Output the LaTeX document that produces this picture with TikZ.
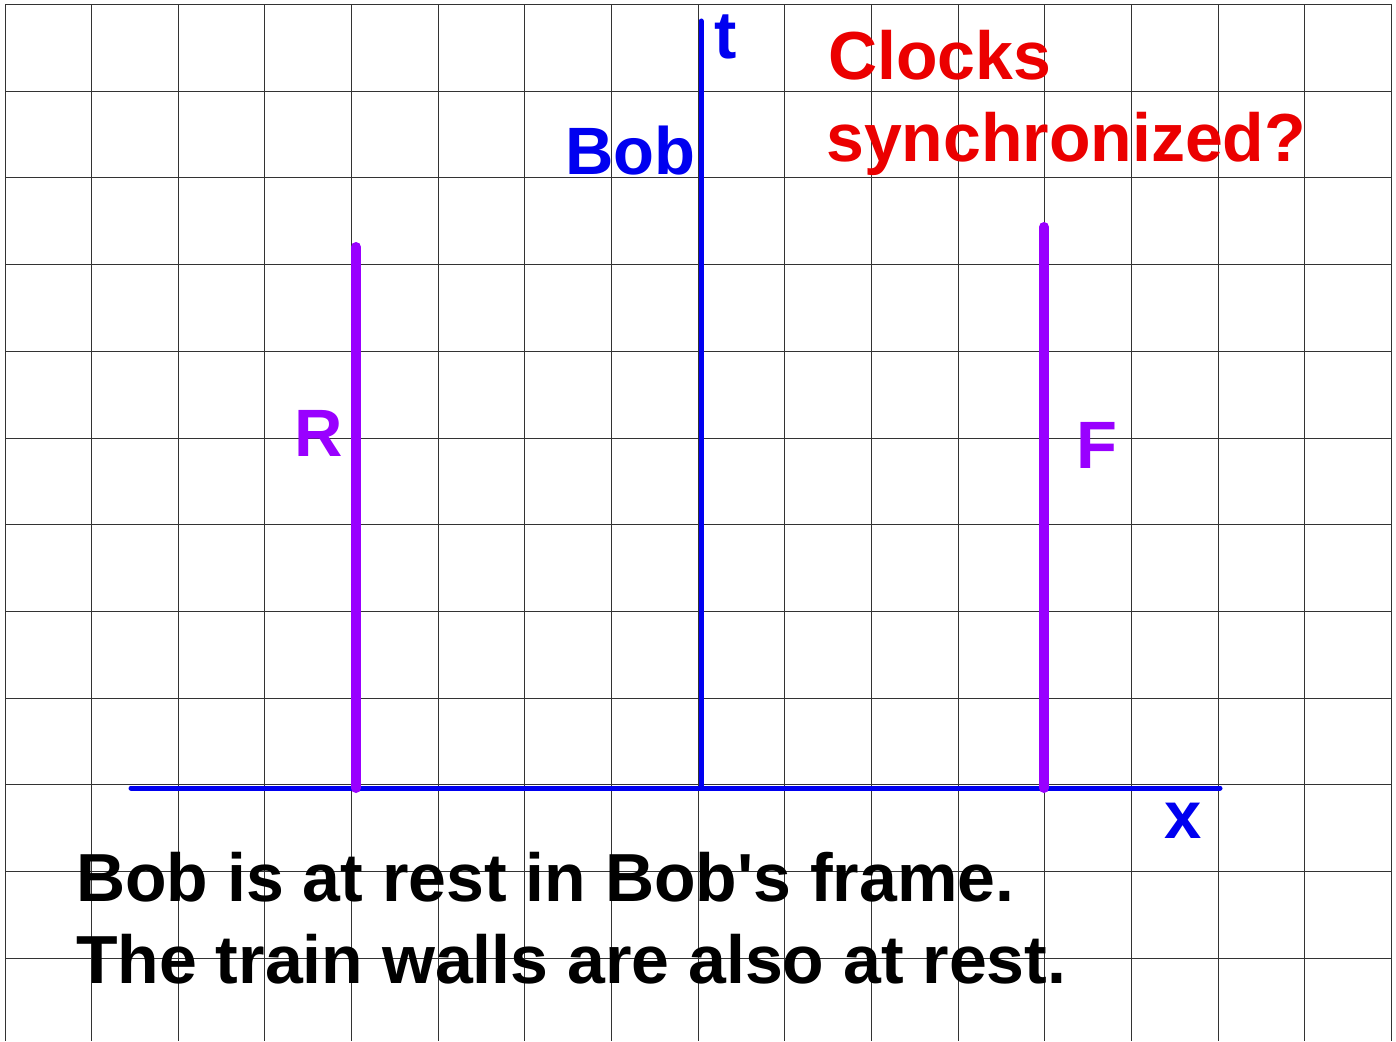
\documentclass[tikz,border=0pt]{standalone}
\usepackage{fontspec}
\setmainfont{Liberation Sans}
\newfontfamily\nomapfont{Liberation Sans}
\definecolor{axblue}{RGB}{0,0,240}
\definecolor{wallpurple}{RGB}{153,0,255}
\definecolor{qred}{RGB}{235,0,0}
\begin{document}
\begin{tikzpicture}[x=1pt,y=-1pt,
  gridline/.style={black!80,line width=1pt},
  axis/.style={axblue,line width=5pt,line cap=round},
  wall/.style={wallpurple,line width=10pt,line cap=round},
  lbl/.style={anchor=base west,inner sep=0pt,font=\bfseries\fontsize{67}{80}\selectfont},
  big/.style={anchor=base west,inner sep=0pt,font=\bfseries\fontsize{68}{80}\selectfont},
]
\useasboundingbox (0,0) rectangle (1396,1041);
\fill[white] (0,0) rectangle (1396,1041);
% grid
\foreach \k in {0,...,16}{
  \draw[gridline] ({5+86.65*\k},4.5) -- ({5+86.65*\k},1041);
}
\foreach \k in {0,...,11}{
  \draw[gridline] (5,{4.5+86.7*\k}) -- (1391,{4.5+86.7*\k});
}
% axes
\coordinate (xl) at (131,788);
\coordinate (xr) at (1220,788);
\coordinate (tb) at (701,788);
\coordinate (tt) at (701,21);
\draw[axis] (xl) -- (xr);
\draw[axis] (tb) -- (tt);
% walls
\coordinate (rb) at (356,788);
\coordinate (rt) at (356,247);
\coordinate (fb) at (1044,788);
\coordinate (ft) at (1044,227);
\draw[wall] (rb) -- (rt);
\draw[wall] (fb) -- (ft);
% labels
\node[lbl,text=axblue] (tlab) at (714,59) {t};
\node[lbl,text=axblue] (xlab) at (1164,838) {x};
\node[lbl,text=axblue] (boblab) at (565,174) {Bob};
\node[lbl,text=wallpurple] (rlab) at (294,456) {R};
\node[lbl,text=wallpurple] (flab) at (1076,468) {F};
\node[big,text=qred] (q1) at (828,79) {Clocks};
\node[big,text=qred] (q2) at (826,161) {synchronized?};
\node[big,text=black] (s1) at (76,901) {Bob is at rest in Bob{\nomapfont\bfseries'}s frame.};
\node[big,text=black] (s2) at (76,983) {The train walls are also at rest.};
\end{tikzpicture}
\end{document}
